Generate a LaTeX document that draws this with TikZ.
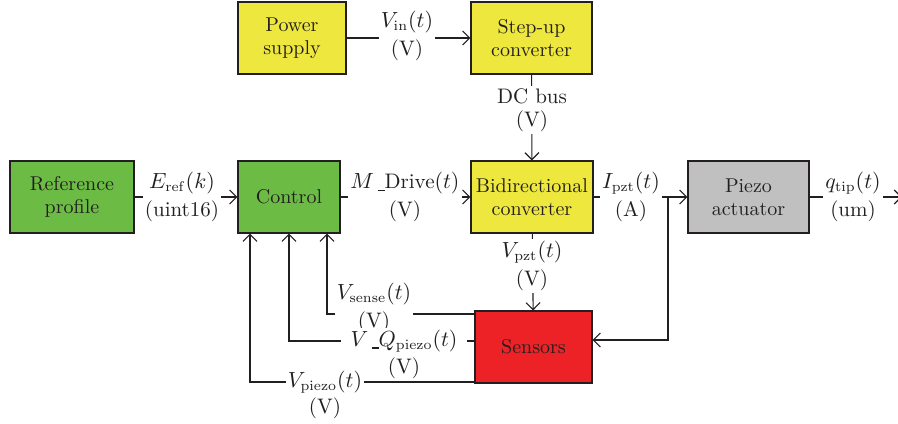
\documentclass[tikz,border=0pt]{standalone}
\usepackage{amsmath}
\usepackage{amssymb}
\usepackage{tikz}
\usetikzlibrary{arrows.meta}
\definecolor{blkgreen}{RGB}{108,187,69}
\definecolor{blkyellow}{RGB}{238,232,62}
\definecolor{blkgrey}{RGB}{192,192,192}
\definecolor{blkred}{RGB}{236,34,38}
\definecolor{txt}{RGB}{35,31,32}
\newcommand{\ubar}{\rule[-1.2pt]{3.5pt}{0.7pt}}

\begin{document}
\begin{tikzpicture}[x=0.5pt,y=-0.5pt,>={Straight Barb[length=3.5pt,width=7pt]}]
\tikzstyle{blk}=[draw=txt, line width=0.6pt, minimum height=36pt, inner sep=2pt, align=center, text=txt, font=\fontsize{10}{11.5}\selectfont]
\tikzstyle{lab}=[fill=white, inner sep=1pt, align=center, text=txt, font=\fontsize{10.5}{14}\selectfont]
\tikzstyle{wire}=[line width=0.55pt, draw=txt, ->]
\useasboundingbox (0,0) rectangle (898,423);
%blocks
\node[blk, fill=blkyellow, minimum width=54pt] (power) at (292,38) {Power\\supply};
\node[blk, fill=blkyellow, minimum width=60.5pt] (stepup) at (531.5,38) {Step-up\\converter};
\node[blk, fill=blkgreen, minimum width=62pt] (ref) at (72,197) {Reference\\profile};
\node[blk, fill=blkgreen, minimum width=51pt] (ctrl) at (289,197) {Control};
\node[blk, fill=blkyellow, minimum width=61pt] (bidir) at (532,197) {Bidirectional\\converter};
\node[blk, fill=blkgrey, minimum width=60.5pt] (piezo) at (748.5,197) {Piezo\\actuator};
\node[blk, fill=blkred, minimum width=58.5pt] (sens) at (533.5,347) {Sensors};
\coordinate (tap) at (668,197);
\coordinate (out) at (902,197);
%forward path
\draw[wire] (power) -- (stepup);
\draw[wire] (stepup) -- (bidir);
\draw[wire] (ref) -- (ctrl);
\draw[wire] (ctrl) -- (bidir);
\draw[wire] (bidir) -- (piezo);
\draw[wire] (piezo) -- (out);
\draw[wire] (bidir) -- (sens);
\draw[wire] (tap) |- ([yshift=3.5pt]sens.east);
%feedback
\draw[wire] ([yshift=16.5pt]sens.west) -| ([xshift=19pt]ctrl.south);
\draw[wire] ([yshift=3pt]sens.west) -| (ctrl.south);
\draw[wire] ([yshift=-17.5pt]sens.west) -| ([xshift=-19.5pt]ctrl.south);
%labels
\node[lab] (lin) at (407,36) {$V_{\mathrm{in}}(t)$\\(V)};
\node[lab, font=\fontsize{10.5}{11.5}\selectfont] (ldc) at (532,110) {DC bus\\(V)};
\node[lab] (lref) at (182,197) {$E_{\mathrm{ref}}(k)$\\(uint16)};
\node[lab] (ldrv) at (405,197) {$M$\,\ubar Drive$(t)$\\(V)};
\node[lab] (lpzt) at (631,197) {$I_{\mathrm{pzt}}(t)$\\(A)};
\node[lab] (ltip) at (853,197) {$q_{\mathrm{tip}}(t)$\\(um)};
\node[lab] (lvp) at (532,266) {$V_{\mathrm{pzt}}(t)$\\(V)};
\node[lab] (lsen) at (374,308) {$V_{\mathrm{sense}}(t)$\\(V)};
\node[lab, inner xsep=5pt] (lq) at (404,341) {$V$\,\ubar$Q_{\mathrm{piezo}}(t)$};
\node[lab, fill=none] (lqv) at (404,368) {(V)};
\node[lab] (lpz) at (325,382) {$V_{\mathrm{piezo}}(t)$};
\node[lab, fill=none] (lpzv) at (325,408) {(V)};
\end{tikzpicture}
\end{document}
